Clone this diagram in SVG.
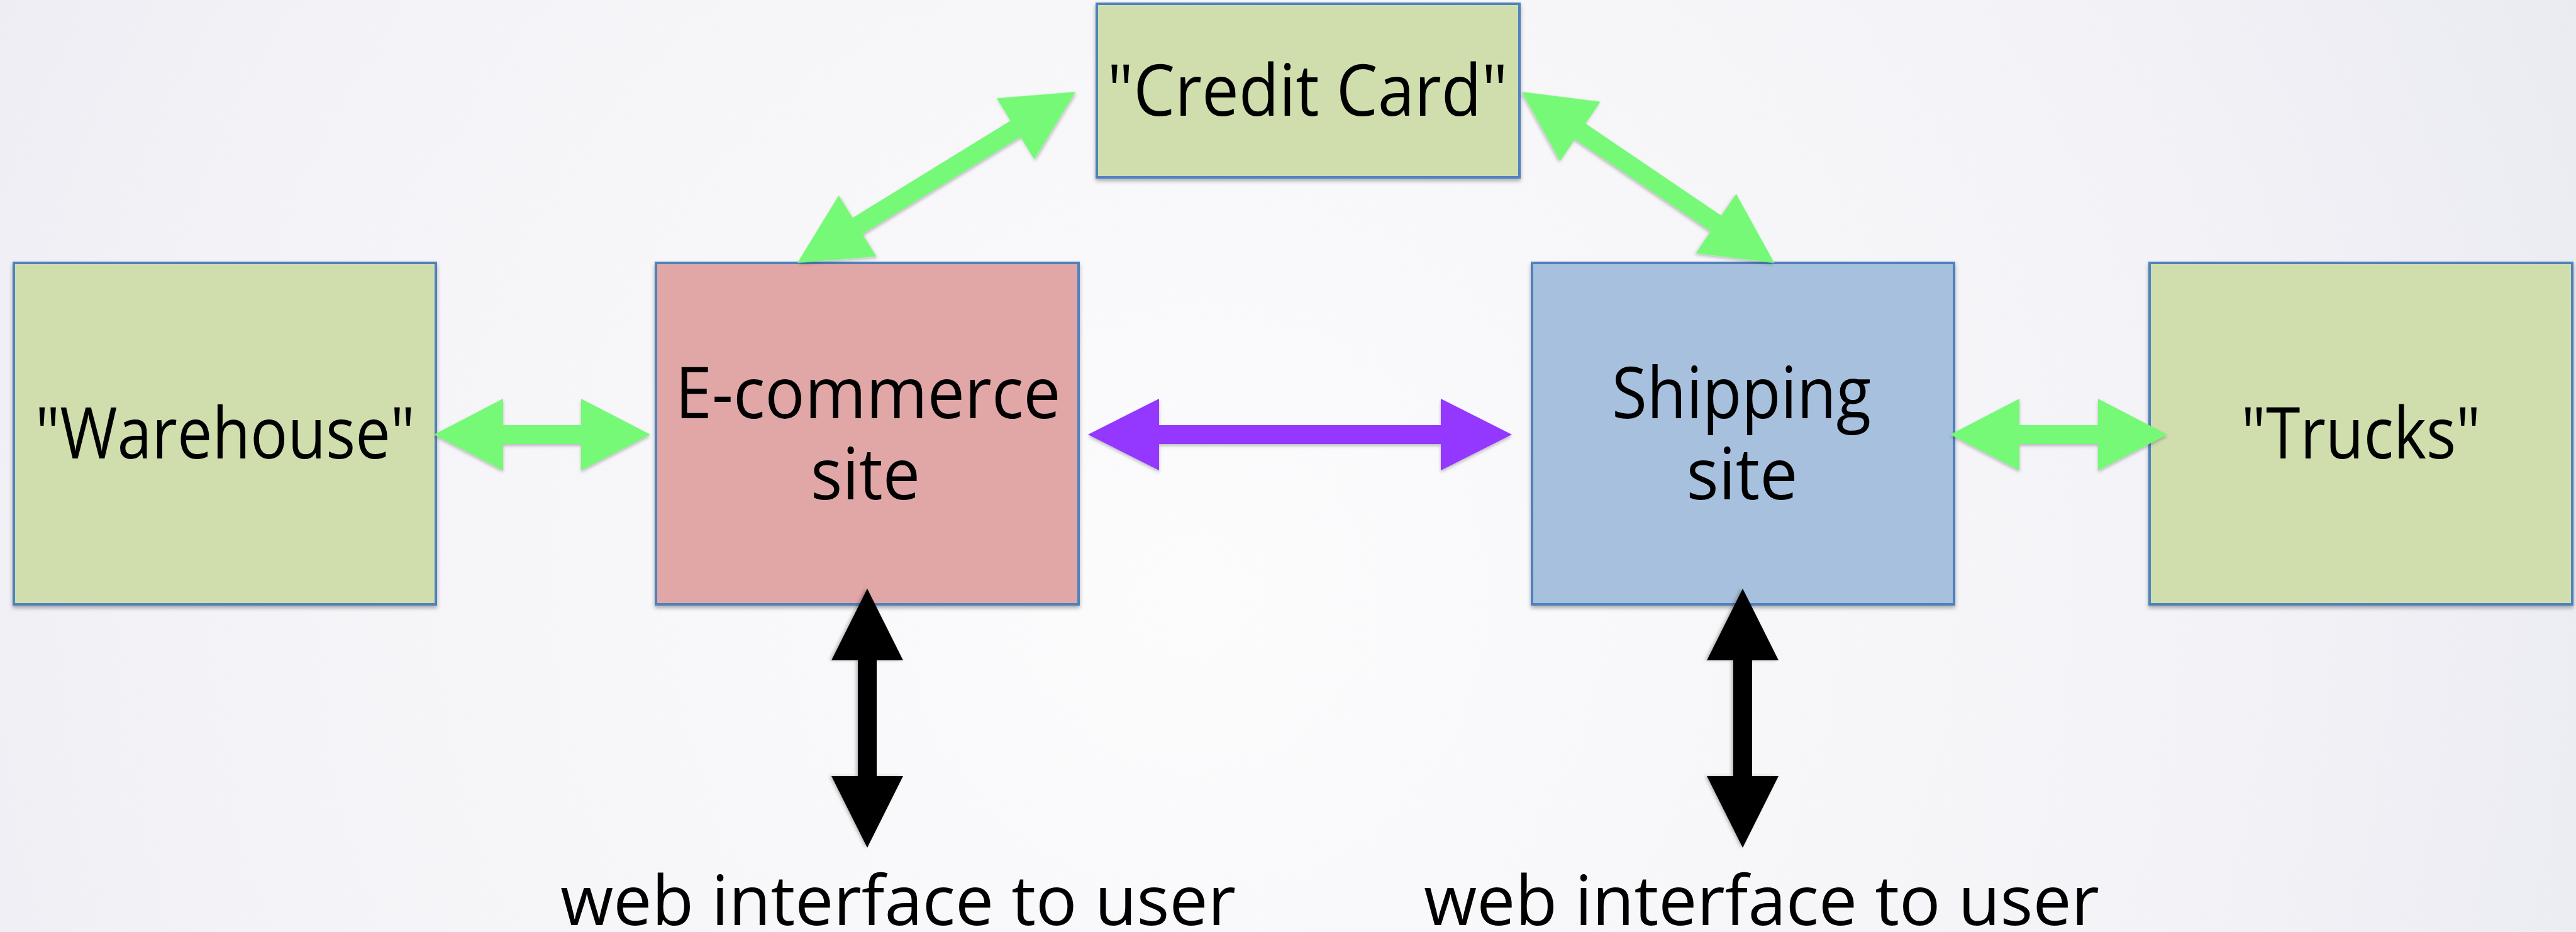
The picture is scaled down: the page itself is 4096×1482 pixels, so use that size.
<svg xmlns="http://www.w3.org/2000/svg" width="4096" height="1482" viewBox="0 0 4096 1482">
  <defs>
    <radialGradient id="bg" cx="1900" cy="950" r="2700" gradientUnits="userSpaceOnUse">
      <stop offset="0" stop-color="#FCFCFD"/>
      <stop offset="0.55" stop-color="#F4F4F8"/>
      <stop offset="1" stop-color="#E7E7F0"/>
    </radialGradient>
    <filter id="sh" x="-10%" y="-10%" width="120%" height="130%">
      <feDropShadow dx="0" dy="4" stdDeviation="3" flood-color="#000" flood-opacity="0.3"/>
    </filter>
    <filter id="ash" x="-10%" y="-20%" width="120%" height="140%">
      <feDropShadow dx="0" dy="3" stdDeviation="2.5" flood-color="#000" flood-opacity="0.25"/>
    </filter>
  </defs>
  <style>
    .box { stroke: #4F81BD; stroke-width: 4; filter: url(#sh); }
    .green { fill: #CFDEAC; }
    .pink { fill: #E0A7A6; }
    .blue { fill: #A7C0DE; }
    .lbl { font-family: "Open Sans", "Noto Sans", "Liberation Sans", sans-serif; font-size: 114px; fill: #000; text-anchor: middle; }
    .cap { font-family: "Open Sans", "Noto Sans", "Liberation Sans", sans-serif; font-size: 110px; fill: #000; text-anchor: middle; }
    .ga { fill: #75F977; filter: url(#ash); }
    .pa { fill: #9437FF; filter: url(#ash); }
    .ba { fill: #000; filter: url(#ash); }
  </style>
  <rect x="0" y="0" width="4096" height="1482" fill="url(#bg)"/>

  <g id="credit-card">
    <rect class="box green" x="1744" y="6" width="672" height="276"/>
    <text class="lbl" x="2079" y="184" textLength="637" lengthAdjust="spacingAndGlyphs">"Credit Card"</text>
  </g>
  <g id="warehouse">
    <rect class="box green" x="22" y="418" width="671" height="543"/>
    <text class="lbl" x="358" y="729" textLength="604" lengthAdjust="spacingAndGlyphs">"Warehouse"</text>
  </g>
  <g id="ecommerce">
    <rect class="box pink" x="1043" y="418" width="672" height="543"/>
    <text class="lbl" x="1380" y="665" textLength="613" lengthAdjust="spacingAndGlyphs">E-commerce</text>
    <text class="lbl" x="1376" y="794" textLength="174" lengthAdjust="spacingAndGlyphs">site</text>
  </g>
  <g id="shipping">
    <rect class="box blue" x="2436" y="418" width="671" height="543"/>
    <text class="lbl" x="2769" y="665" textLength="412" lengthAdjust="spacingAndGlyphs">Shipping</text>
    <text class="lbl" x="2770" y="794" textLength="177" lengthAdjust="spacingAndGlyphs">site</text>
  </g>
  <g id="trucks">
    <rect class="box green" x="3418" y="418" width="672" height="543"/>
    <text class="lbl" x="3754" y="729" textLength="381" lengthAdjust="spacingAndGlyphs">"Trucks"</text>
  </g>
  <g id="user-left">
    <text class="cap" x="1428" y="1471" textLength="1074" lengthAdjust="spacingAndGlyphs">web interface to user</text>
  </g>
  <g id="user-right">
    <text class="cap" x="2801" y="1471" textLength="1074" lengthAdjust="spacingAndGlyphs">web interface to user</text>
  </g>

  <g id="connectors">
    <polygon class="ga" transform="translate(690,691)" points="0,0 110,-57 110,-15 234,-15 234,-57 344,0 234,57 234,15 110,15 110,57"/>
    <polygon class="ga" transform="translate(3101,691)" points="0,0 110,-57 110,-15 235,-15 235,-57 345,0 235,57 235,15 110,15 110,57"/>
    <polygon class="pa" transform="translate(1730,691)" points="0,0 113,-57 113,-15 561,-15 561,-57 674,0 561,57 561,15 113,15 113,57"/>
    <polygon class="ga" transform="translate(1268,418) rotate(-31.6)" points="0,0 112,-57 112,-15 407,-15 407,-57 519,0 407,57 407,15 112,15 112,57"/>
    <polygon class="ga" transform="translate(2420,146) rotate(34.15)" points="0,0 112,-57 112,-15 373,-15 373,-57 485,0 373,57 373,15 112,15 112,57"/>
    <polygon class="ba" transform="translate(1379,936) rotate(90)" points="0,0 114,-57 114,-15 298,-15 298,-57 412,0 298,57 298,15 114,15 114,57"/>
    <polygon class="ba" transform="translate(2771,936) rotate(90)" points="0,0 114,-57 114,-15 298,-15 298,-57 412,0 298,57 298,15 114,15 114,57"/>
  </g>
</svg>
